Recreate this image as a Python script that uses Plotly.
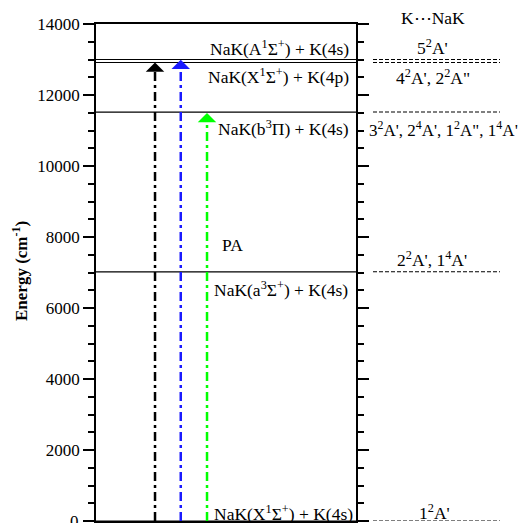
import plotly.graph_objects as go

# ---------------- data ----------------
left_levels = [0, 7020, 11520, 12915, 13000]          # NaK + K asymptotes (cm^-1)
right_levels = [0, 7020, 11520, 12915, 13000]         # K...NaK complex states (cm^-1)
pa_x = [0.227, 0.326, 0.427]                          # horizontal positions of PA arrows
pa_tips = [12915, 12990, 11490]                       # arrow tip energies
pa_colors = ["black", "#1a1aff", "#00ff00"]
y_ticks = [0, 2000, 4000, 6000, 8000, 10000, 12000, 14000]

left_labels = ["NaK(A<sup>1</sup>Σ<sup>+</sup>) + K(4s)", "NaK(X<sup>1</sup>Σ<sup>+</sup>) + K(4p)",
               "NaK(b<sup>3</sup>Π) + K(4s)", "NaK(a<sup>3</sup>Σ<sup>+</sup>) + K(4s)",
               "NaK(X<sup>1</sup>Σ<sup>+</sup>) + K(4s)"]
right_labels = ["5<sup>2</sup>A'", "4<sup>2</sup>A', 2<sup>2</sup>A\"",
                "3<sup>2</sup>A', 2<sup>4</sup>A', 1<sup>2</sup>A\", 1<sup>4</sup>A\"",
                "2<sup>2</sup>A', 1<sup>4</sup>A'", "1<sup>2</sup>A'"]

# ---------------- layout constants ----------------
OFF = 8                       # browser default body margin
PAGE_W, PAGE_H = 526, 523
W, H = PAGE_W - OFF, PAGE_H - OFF
PL, PR, PT, PB = 96, 500, 24, 521   # plot area in page pixels
ML, MR, MT, MB = PL - OFF, W + OFF - PR, PT - OFF, H + OFF - PB
FONT = "Liberation Serif, Times New Roman, serif"


def ypaper(ypx):
    return (PB - ypx) / (PB - PT)


def xpaper(xpx):
    return (xpx - PL) / (PR - PL)


fig = go.Figure()

# left panel level lines
lx, ly = [], []
for e in left_levels:
    lx += [0, 1, None]
    ly += [e, e, None]
fig.add_trace(go.Scatter(x=lx, y=ly, mode="lines", xaxis="x", yaxis="y",
                         line=dict(color="black", width=1.2), hoverinfo="skip", showlegend=False))

# right panel dashed levels
rx, ry = [], []
for e in right_levels:
    rx += [0, 1, None]
    ry += [e, e, None]
fig.add_trace(go.Scatter(x=rx, y=ry, mode="lines", xaxis="x2", yaxis="y2",
                         line=dict(color="black", width=1.1, dash="4px,2px"),
                         hoverinfo="skip", showlegend=False))

# PA arrows
px_per_unit = (PB - PT) / 14000.0
head_len = 6.0 / px_per_unit
for x, tip, c in zip(pa_x, pa_tips, pa_colors):
    fig.add_trace(go.Scatter(x=[x, x], y=[0, tip - head_len], mode="lines", xaxis="x", yaxis="y",
                             line=dict(color=c, width=2.5, dash="9px,4px,3px,4px"),
                             hoverinfo="skip", showlegend=False))

annotations = []
for x, tip, c in zip(pa_x, pa_tips, pa_colors):
    annotations.append(dict(x=x, y=tip, ax=x, ay=tip - 10 / px_per_unit, xref="x", yref="y",
                            axref="x", ayref="y", text="", showarrow=True, arrowhead=1,
                            arrowsize=1.4, arrowwidth=2.2, arrowcolor=c))

tf = dict(family=FONT, size=17.5, color="black")
# left labels: (x, xanchor, y level, yshift)
left_pos = [(0.981, "right", left_levels[4], 12),
            (0.981, "right", left_levels[3], -13),
            (0.981, "right", left_levels[2], -16),
            (0.446, "left", left_levels[1], -17),
            (0.446, "left", left_levels[0], 8)]
for t, (x, xa, e, ys) in zip(left_labels, left_pos):
    annotations.append(dict(x=x, y=e, xref="x", yref="y", text=t, showarrow=False,
                            xanchor=xa, yanchor="middle", yshift=ys, font=tf))
annotations.append(dict(x=0.477, y=ypaper(245), xref="x", yref="paper",
                        text="PA", showarrow=False, xanchor="left", yanchor="middle", font=tf))

right_pos = [(0.472, right_levels[4], 13, 17.5),
             (0.472, right_levels[3], -14, 17.5),
             (0.567, right_levels[2], -17, 17),
             (0.465, right_levels[1], 13, 17.5),
             (0.488, right_levels[0], 9, 17.5)]
for t, (x, e, ys, fs) in zip(right_labels, right_pos):
    annotations.append(dict(x=x, y=e, xref="x2", yref="y2", text=t, showarrow=False,
                            xanchor="center", yanchor="middle", yshift=ys,
                            font=dict(family=FONT, size=fs, color="black")))
annotations.append(dict(x=0.472, y=ypaper(18), xref="x2", yref="paper",
                        text="K⋯NaK", showarrow=False, xanchor="center", yanchor="middle", font=tf))

# bottom tick label (drawn as annotation so it is not dropped at the page edge)
annotations.append(dict(x=xpaper(81), y=y_ticks[0], xref="paper", yref="y", text=str(y_ticks[0]),
                        showarrow=False, xanchor="right", yanchor="middle",
                        font=dict(family=FONT, size=17, color="black")))

# y axis title
annotations.append(dict(x=xpaper(20), y=ypaper(271), xref="paper", yref="paper",
                        text="<b>Energy (cm<sup>-1</sup>)</b>",
                        textangle=-90, showarrow=False, xanchor="center", yanchor="middle",
                        font=dict(family=FONT, size=17, color="black")))

split = (356 - PL) / (PR - PL)
split2 = (373 - PL) / (PR - PL)

fig.update_layout(
    width=W, height=H,
    margin=dict(l=ML, r=MR, t=MT, b=MB, pad=0),
    paper_bgcolor="white", plot_bgcolor="white",
    showlegend=False,
    xaxis=dict(domain=[0, split], range=[0, 1], showline=True, mirror=True, linecolor="black",
               linewidth=1.8, showgrid=False, zeroline=False, ticks="", showticklabels=False),
    yaxis=dict(range=[0, 14000], tickvals=y_ticks,
               ticktext=[""] + [str(v) for v in y_ticks[1:]],
               showline=True, mirror="ticks", linecolor="black", linewidth=1.8,
               ticks="outside", ticklen=11, tickwidth=1.8, tickcolor="black",
               minor=dict(ticks="outside", dtick=500, ticklen=6, tickwidth=1.8, tickcolor="black"),
               showgrid=False, zeroline=False, tickfont=dict(family=FONT, size=17, color="black")),
    xaxis2=dict(domain=[split2, 1], range=[0, 1], visible=False, anchor="y2"),
    yaxis2=dict(range=[0, 14000], visible=False, anchor="x2"),
    annotations=annotations,
)

fig.write_html("out.html")
